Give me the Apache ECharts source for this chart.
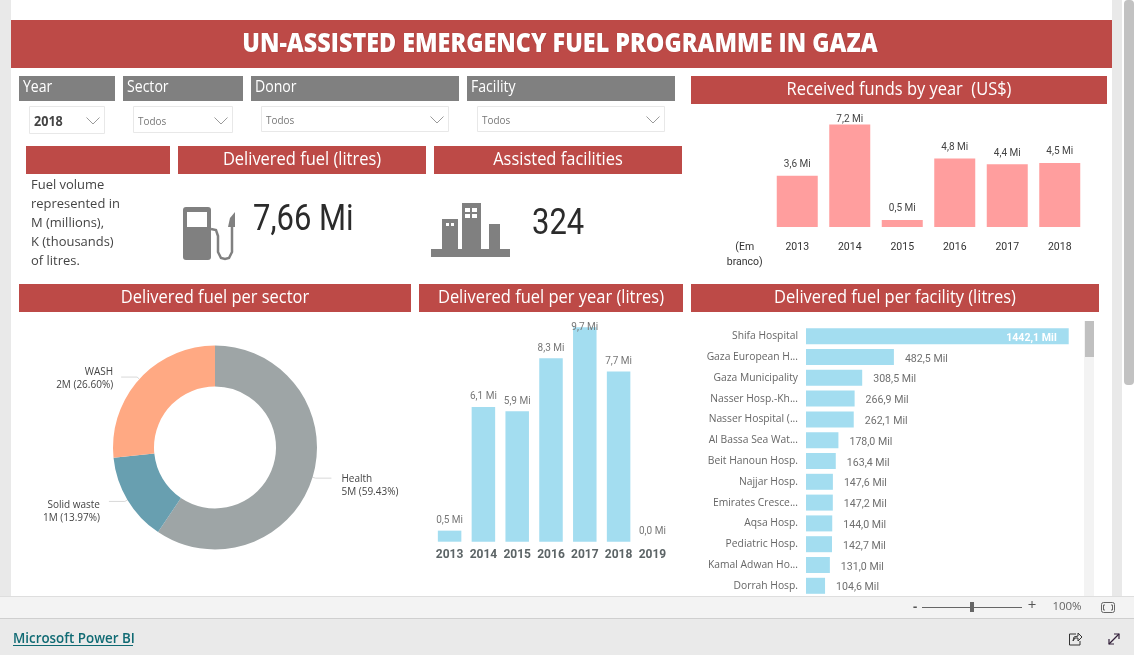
<!DOCTYPE html>
<html><head><meta charset="utf-8">
<style>html,body{margin:0;padding:0;background:#fff;overflow:hidden}#c{width:1134px;height:655px}</style>
<script src="https://cdn.jsdelivr.net/npm/echarts@6/dist/echarts.min.js"></script>
</head><body><div id="c"></div>
<script>
const fundYears = ['(Em\nbranco)','2013','2014','2015','2016','2017','2018'];
const fundValues = [null,3.6,7.2,0.5,4.8,4.4,4.5];
const deliveredYears = ['2013','2014','2015','2016','2017','2018','2019'];
const deliveredValues = [0.5,6.1,5.9,8.3,9.7,7.7,0.0];
const facilityNames = ['Shifa Hospital','Gaza European H...','Gaza Municipality','Nasser Hosp.-Kh...','Nasser Hospital (...','Al Bassa Sea Wat...','Beit Hanoun Hosp.','Najjar Hosp.','Emirates Cresce...','Aqsa Hosp.','Pediatric Hosp.','Kamal Adwan Ho...','Dorrah Hosp.'];
const facilityValues = [1442.1,482.5,308.5,266.9,262.1,178.0,163.4,147.6,147.2,144.0,142.7,131.0,104.6];
const sectorNames = ['Health','Solid waste','WASH'];
const sectorShares = [59.43,13.97,26.60];
const sectorMillions = [5,1,2];

const RED='#BD4A47', GREY='#808080', UI='"Open Sans","Noto Sans",sans-serif', DIN='Roboto,"Noto Sans",sans-serif';
const g=[];
const rect=(x,y,w,h,fill,extra={})=>g.push({type:'rect',shape:{x,y,width:w,height:h,...(extra.r?{r:extra.r}:{})},style:{fill,stroke:extra.stroke||null,lineWidth:extra.stroke?1:0},z:extra.z??-5,silent:true});
const text=(x,y,t,font,fill,align='left',extra={},sx=1)=>g.push({type:'text',x,y,scaleX:sx,style:{text:t,font,fill,align,verticalAlign:'middle',...extra},z:-3,silent:true});
const line=(points,stroke,lineWidth=1,smooth=0)=>g.push({type:'polyline',shape:{points,smooth},style:{fill:'none',stroke,lineWidth},z:-3,silent:true});
const poly=(points,fill)=>g.push({type:'polygon',shape:{points},style:{fill},z:-3,silent:true});

// page chrome
rect(0,0,1134,655,'#ffffff',{z:-9});
rect(0,0,11,596,'#e9e9e9');
rect(1112,0,10,596,'#e9e9e9');
rect(1124,0,10,385,'#c2c2c2',{r:4});
rect(0,596,1134,22,'#f3f3f3');
rect(0,596,1134,1,'#dedede');
rect(0,618,1134,37,'#eaeaea');
rect(0,618,1134,1,'#cfcfcf');

// title
rect(11,20,1101,48,RED);
text(560,44,'UN-ASSISTED EMERGENCY FUEL PROGRAMME IN GAZA','800 27px '+UI,'#ffffff','center',{textShadowColor:'rgba(90,20,20,.35)',textShadowBlur:1,textShadowOffsetX:0.5,textShadowOffsetY:0.5},0.865);

// slicers
[['Year',19,96],['Sector',123,120],['Donor',251,208],['Facility',467,208]].forEach(([t,x,w])=>{
  rect(x,76,w,25,GREY);
  text(x+4,87,t,'16px '+UI,'#ffffff','left',{},0.88);
});
[[29,106,75,27,'2018',true],[133,106,99,26,'Todos'],[261,106,187,25,'Todos'],[477,106,187,25,'Todos']].forEach(([x,y,w,h,t,b])=>{
  rect(x+.5,y+.5,w,h,'#ffffff',{stroke:'#e8e8e8'});
  text(x+5,y+16-(w>100?1:0),t,b?'bold 14px '+UI:'11px '+UI,b?'#444444':'#777777','left',{},0.9);
  const cx=x+w-11, cy=y+15-(w>100?1:0);
  line([[cx-6.5,cy-3.5],[cx,cy+3],[cx+6.5,cy-3.5]],'#9a9a9a');
});

// KPI heads
const headFont='17.5px '+UI, headScale=0.94;
rect(26,146,144,28,RED);
rect(178,146,248,28,RED); text(302,160,'Delivered fuel (litres)',headFont,'#ffffff','center',{},headScale);
rect(434,146,248,28,RED); text(558,160,'Assisted facilities',headFont,'#ffffff','center',{},headScale);
['Fuel volume','represented in','M (millions),','K (thousands)','of litres.'].forEach((l,i)=>text(31,185+i*19,l,'13.5px '+UI,'#444444','left',{},0.96));

// fuel pump icon
rect(183,207,28,53,'#808080',{r:3,z:-3});
rect(187,212,20,15,'#ffffff',{z:-2});
line([[211,229],[216,230],[218,236],[218,252],[221,258],[225,259],[229,258],[232,252],[232,226]],'#808080',2.5);
poly([[228,227],[230,218],[235,212],[235,227]],'#808080');
text(253,221,'7,66 Mi','36px '+DIN,'#2b2b2b','left',{},0.86);

// buildings icon
rect(431,249,79,8,'#808080',{z:-3});
rect(442,219,16,30,'#808080',{z:-3});
rect(462,203,19,46,'#808080',{z:-3});
rect(489,224,11,25,'#808080',{z:-3});
[[446,223],[451,223]].forEach(([x,y])=>rect(x,y,3,3,'#ffffff',{z:-2}));
[[465,208],[472,208],[465,214],[472,214]].forEach(([x,y])=>rect(x,y,5,4,'#ffffff',{z:-2}));
text(532,225,'324','36px '+DIN,'#2b2b2b','left',{},0.86);

// section heads
rect(691,76,416,28,RED); text(899,90,'Received funds by year  (US$)',headFont,'#ffffff','center',{},headScale);
rect(19,284,392,28,RED); text(215,298,'Delivered fuel per sector',headFont,'#ffffff','center',{},headScale);
rect(419,284,264,28,RED); text(551,298,'Delivered fuel per year (litres)',headFont,'#ffffff','center',{},headScale);
rect(691,284,408,28,RED); text(895,298,'Delivered fuel per facility (litres)',headFont,'#ffffff','center',{},headScale);

// facility scrollbar
rect(1084,321,10,275,'#f3f3f3');
rect(1085,321,9,36,'#c0c0c0',{z:-4});

// footer controls
text(915,607,'-','bold 13px '+UI,'#555555','center');
rect(922,607,100,1,'#666666');
rect(970,602,4,10,'#666666');
text(1032,606,'+','15px '+UI,'#555555','center');
text(1067,607,'100%','11.5px '+UI,'#666666','center');
g.push({type:'rect',shape:{x:1101.5,y:602.5,width:13,height:10,r:2},style:{fill:'none',stroke:'#666666',lineWidth:1},z:-3,silent:true});
line([[1105,605],[1103.5,605],[1103.5,610],[1105,610]],'#666666');
line([[1111,605],[1112.5,605],[1112.5,610],[1111,610]],'#666666');
text(13,639,'Microsoft Power BI','600 15px '+UI,'#0f6a73','left',{},0.89);
rect(13,645,120,1,'#0f6a73',{z:-3});
line([[1076,634],[1069.5,634],[1069.5,645],[1080,645],[1080,641]],'#333333');
line([[1073,641],[1074,637],[1078,636],[1078,633],[1082,637],[1078,641],[1078,638],[1075,638],[1073,641]],'#333333');
line([[1109,644],[1119,634]],'#33203a',1.2);
line([[1114,634],[1119,634],[1119,639]],'#33203a',1.2);
line([[1109,639],[1109,644],[1114,644]],'#33203a',1.2);

const mi=v=>v.toFixed(1).replace('.',',')+' Mi';
const mil=v=>v.toFixed(1).replace('.',',')+' Mil';
const maxDelivered=Math.max(...deliveredValues);
const maxFunds=Math.max(...fundValues);

const option={
  animation:false,
  backgroundColor:'transparent',
  graphic:{elements:g},
  grid:[
    {left:718.5,width:367.5,top:113,height:114},
    {left:432.7,width:236.6,top:320.7,height:221},
    {left:806,width:262.7,top:325.8,height:270.4}
  ],
  xAxis:[
    {type:'category',gridIndex:0,data:fundYears,axisLine:{show:false},axisTick:{show:false},
     axisLabel:{color:'#333333',fontSize:10.5,fontFamily:DIN,margin:13,lineHeight:15,interval:0,verticalAlign:'top'}},
    {type:'category',gridIndex:1,data:deliveredYears,axisLine:{show:false},axisTick:{show:false},
     axisLabel:{color:'#5c6466',fontSize:12,fontWeight:'bold',fontFamily:DIN,margin:7,interval:0}},
    {type:'value',gridIndex:2,min:0,max:Math.max(...facilityValues),show:false}
  ],
  yAxis:[
    {type:'value',gridIndex:0,min:0,max:8,show:false},
    {type:'value',gridIndex:1,min:0,max:10,show:false},
    {type:'category',gridIndex:2,data:facilityNames,inverse:true,axisLine:{show:false},axisTick:{show:false},
     axisLabel:{color:'#666666',fontSize:10.3,fontFamily:UI,margin:8,interval:0,padding:[4,0,0,0]}}
  ],
  series:[
    {type:'bar',xAxisIndex:0,yAxisIndex:0,barWidth:41,itemStyle:{color:'#FF9E9E'},
     data:fundValues.map(v=>v===maxFunds?{value:v,label:{offset:[0,6]}}:v),
     label:{show:true,position:'top',distance:6,color:'#444444',fontSize:10,fontFamily:DIN,formatter:p=>mi(p.value)}},
    {type:'bar',xAxisIndex:1,yAxisIndex:1,barWidth:23.5,itemStyle:{color:'#A3DDF0'},
     data:deliveredValues.map(v=>v===maxDelivered?{value:v,label:{offset:[0,10]}}:v),
     label:{show:true,position:'top',distance:5,color:'#777777',fontSize:10,fontFamily:DIN,formatter:p=>mi(p.value)}},
    {type:'bar',xAxisIndex:2,yAxisIndex:2,barWidth:16,itemStyle:{color:'#A3DDF0'},
     data:facilityValues.map((v,i)=>i===0?{value:v,label:{position:'insideRight',distance:12,color:'#ffffff',fontWeight:'bold'}}:v),
     label:{show:true,position:'right',distance:11,color:'#707070',fontSize:10.6,fontFamily:DIN,offset:[0,2],formatter:p=>mil(p.value)}},
    {type:'pie',center:[215,447.5],radius:[61,102],startAngle:90,clockwise:true,avoidLabelOverlap:false,
     data:sectorNames.map((n,i)=>({name:n,value:sectorShares[i],itemStyle:{color:['#9EA5A6','#689FB0','#FFA983'][i]}})),
     label:{color:'#444444',fontSize:10,lineHeight:13,fontFamily:UI,
       formatter:p=>p.name+'\n'+sectorMillions[p.dataIndex]+'M ('+sectorShares[p.dataIndex].toFixed(2)+'%)'},
     labelLine:{show:true,length:3,length2:16,lineStyle:{color:'#d9d9d9',width:1}},
     labelLayout:p=>({dx:[5,-4,-3][p.dataIndex],dy:[8,10,2][p.dataIndex]})}
  ]
};
echarts.init(document.getElementById('c')).setOption(option);
</script></body></html>
